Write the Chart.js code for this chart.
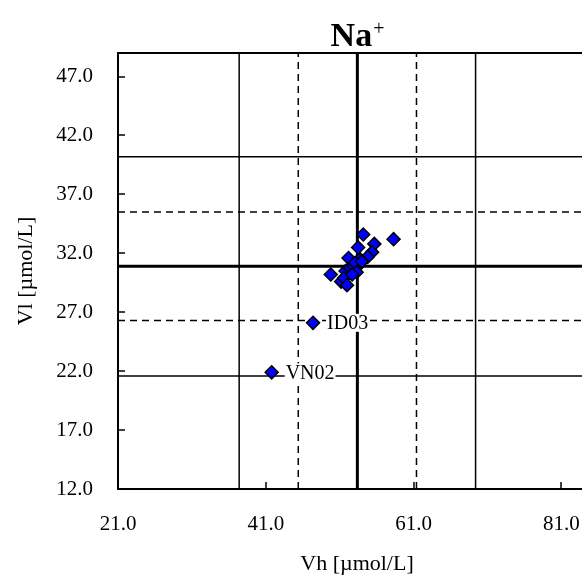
<!DOCTYPE html>
<html>
<head>
<meta charset="utf-8">
<title>Na+ Vh / Vl</title>
<script src="https://cdn.jsdelivr.net/npm/chart.js@4.4.1/dist/chart.umd.min.js"></script>
<style>
  html, body { margin: 0; padding: 0; background: #fff; overflow: hidden; }
  #wrap { position: relative; width: 640px; height: 581px; }
</style>
</head>
<body>
<div id="wrap"><canvas id="chart"></canvas></div>
<script>
// samples: high (Vh) vs low (Vl) concentration, umol/L
const vhValues = [54.2, 58.3, 55.7, 55.4, 53.5, 54.8, 52.2, 53.8, 53.6, 49.8,
                  51.8, 52.4, 52.9, 51.2, 51.6, 52.0, 53.1, 53.3, 54.0, 52.7,
                  47.4, 41.8];
const vlValues = [33.6, 33.2, 32.8, 32.1, 32.5, 31.7, 31.6, 31.5, 31.0, 30.2,
                  30.5, 30.8, 30.9, 29.6, 29.9, 29.3, 31.2, 30.4, 31.3, 30.2,
                  26.1, 21.9];
const pointLabels = ['', '', '', '', '', '', '', '', '', '',
                     '', '', '', '', '', '', '', '', '', '',
                     'ID03', 'VN02'];

// median and +-15% / +-30% limits
const vhLimits = [37.4, 45.4, 53.4, 61.4, 69.4];
const vlLimits = [21.6, 26.3, 30.9, 35.5, 40.2];

const xTickValues = [21, 41, 61, 81];
const yTickValues = [12, 17, 22, 27, 32, 37, 42, 47];

const chartTitle = 'Na';
const titleCharge = '+';
const xTitle = 'Vh [µmol/L]';
const yTitle = 'Vl [µmol/L]';

const X_MIN = 21, X_MAX = 85.7;
const Y_MIN = 12, Y_MAX = 49.0;
const SERIF = '"Liberation Serif", "Times New Roman", serif';

// index 2 is the median, 1/3 the 15% band, 0/4 the 30% band
function limitStyle(i) {
  if (i === 2) return { borderWidth: 3, borderDash: [] };
  if (i === 1 || i === 3) return { borderWidth: 1.5, borderDash: [7, 5] };
  return { borderWidth: 1.5, borderDash: [] };
}

const limitSets = [];
vhLimits.forEach((v, i) => {
  limitSets.push(Object.assign({
    type: 'line',
    data: [{ x: v, y: Y_MIN }, { x: v, y: Y_MAX }],
    borderColor: '#000',
    pointRadius: 0,
    fill: false
  }, limitStyle(i)));
});
vlLimits.forEach((v, i) => {
  limitSets.push(Object.assign({
    type: 'line',
    data: [{ x: X_MIN, y: v }, { x: X_MAX, y: v }],
    borderColor: '#000',
    pointRadius: 0,
    fill: false
  }, limitStyle(i)));
});

const heading = {
  id: 'heading',
  afterDraw(chart) {
    const { ctx, chartArea } = chart;
    ctx.save();
    ctx.fillStyle = '#000';
    ctx.textBaseline = 'alphabetic';
    ctx.font = 'bold 34px ' + SERIF;
    const w1 = ctx.measureText(chartTitle).width;
    ctx.font = '20px ' + SERIF;
    const w2 = ctx.measureText(titleCharge).width;
    const x0 = (chartArea.left + chartArea.right) / 2 - (w1 + w2) / 2;
    const base = chartArea.top - 7;
    ctx.font = 'bold 34px ' + SERIF;
    ctx.fillText(chartTitle, x0, base);
    ctx.font = '20px ' + SERIF;
    ctx.fillText(titleCharge, x0 + w1 + 1, base - 11);
    ctx.restore();
  }
};

// plot frame plus tick marks pointing into the plot
const frame = {
  id: 'frame',
  afterDatasetsDraw(chart) {
    const { ctx, chartArea: a, scales } = chart;
    ctx.save();
    ctx.strokeStyle = '#000';
    ctx.lineWidth = 1.5;
    ctx.beginPath();
    scales.x.ticks.forEach(t => {
      const px = Math.round(scales.x.getPixelForValue(t.value));
      ctx.moveTo(px, a.bottom);
      ctx.lineTo(px, a.bottom - 7);
    });
    scales.y.ticks.forEach(t => {
      const py = Math.round(scales.y.getPixelForValue(t.value));
      ctx.moveTo(a.left, py);
      ctx.lineTo(a.left + 7, py);
    });
    ctx.stroke();
    ctx.lineWidth = 2;
    ctx.strokeRect(a.left, a.top, a.right - a.left, a.bottom - a.top);
    ctx.restore();
  }
};

const pointTags = {
  id: 'pointTags',
  afterDatasetsDraw(chart) {
    const meta = chart.getDatasetMeta(0);
    const ctx = chart.ctx;
    ctx.save();
    ctx.font = '20px ' + SERIF;
    ctx.textBaseline = 'middle';
    meta.data.forEach((pt, i) => {
      const tag = pointLabels[i];
      if (!tag) return;
      const w = ctx.measureText(tag).width;
      const tx = pt.x + 14;
      ctx.fillStyle = '#fff';
      ctx.fillRect(tx - 1, pt.y - 9, w + 2, 18);
      ctx.fillStyle = '#000';
      ctx.fillText(tag, tx, pt.y + 1);
    });
    ctx.restore();
  }
};

new Chart(document.getElementById('chart'), {
  type: 'scatter',
  data: {
    datasets: [{
      data: vhValues.map((x, i) => ({ x, y: vlValues[i] })),
      pointStyle: 'rectRot',
      pointRadius: 6.5,
      pointHoverRadius: 6.5,
      backgroundColor: '#0000ff',
      borderColor: '#000',
      borderWidth: 1.5
    }].concat(limitSets)
  },
  options: {
    responsive: true,
    maintainAspectRatio: false,
    animation: false,
    devicePixelRatio: 1,
    layout: { padding: { top: 53, right: 44, bottom: 0, left: 0 } },
    plugins: {
      legend: { display: false },
      tooltip: { enabled: false }
    },
    scales: {
      x: {
        type: 'linear',
        min: X_MIN,
        max: X_MAX,
        afterBuildTicks: s => { s.ticks = xTickValues.map(v => ({ value: v })); },
        afterFit: s => { s.height = 92; },
        grid: { drawOnChartArea: false, drawTicks: false },
        border: { color: '#000', width: 2 },
        ticks: {
          color: '#000',
          padding: 23,
          autoSkip: false,
          maxRotation: 0,
          font: { family: SERIF, size: 21 },
          callback: v => Number(v).toFixed(1)
        },
        title: {
          display: true,
          text: xTitle,
          color: '#000',
          font: { family: SERIF, size: 22 },
          padding: { top: 0, bottom: 4 }
        }
      },
      y: {
        type: 'linear',
        min: Y_MIN,
        max: Y_MAX,
        afterBuildTicks: s => { s.ticks = yTickValues.map(v => ({ value: v })); },
        afterFit: s => { s.width = 118; },
        grid: { drawOnChartArea: false, drawTicks: false },
        border: { color: '#000', width: 2 },
        ticks: {
          color: '#000',
          padding: 25,
          autoSkip: false,
          font: { family: SERIF, size: 21 },
          callback: v => Number(v).toFixed(1)
        },
        title: {
          display: true,
          text: yTitle,
          color: '#000',
          font: { family: SERIF, size: 22 },
          padding: { top: 13, bottom: 0 }
        }
      }
    }
  },
  plugins: [heading, frame, pointTags]
});
</script>
</body>
</html>
